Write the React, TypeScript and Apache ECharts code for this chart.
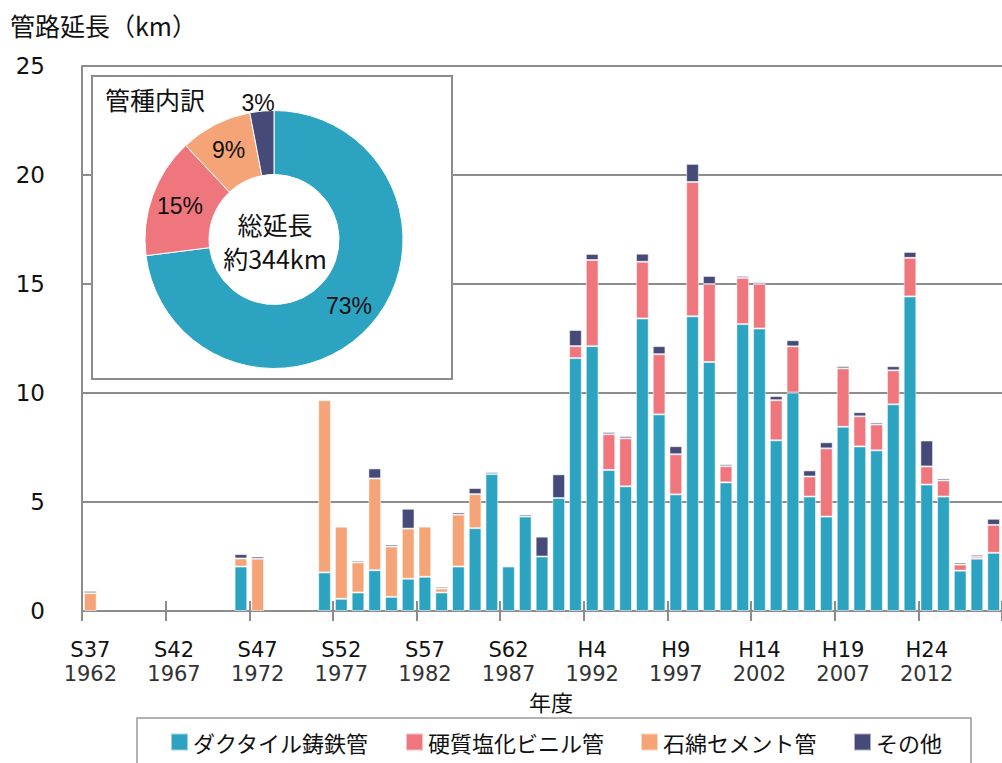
import React, { useEffect, useRef } from "react";
import * as echarts from "echarts";

const years = [
  "1962","1963","1964","1965","1966","1967","1968","1969","1970","1971",
  "1972","1973","1974","1975","1976","1977","1978","1979","1980","1981",
  "1982","1983","1984","1985","1986","1987","1988","1989","1990","1991",
  "1992","1993","1994","1995","1996","1997","1998","1999","2000","2001",
  "2002","2003","2004","2005","2006","2007","2008","2009","2010","2011",
  "2012","2013","2014","2015","2016",
];

// era labels shown under every fifth year
const eraLabels: Record<string, string> = {
  "1962": "S37", "1967": "S42", "1972": "S47", "1977": "S52", "1982": "S57",
  "1987": "S62", "1992": "H4", "1997": "H9", "2002": "H14", "2007": "H19", "2012": "H24",
};

const seriesNames = ["ダクタイル鋳鉄管", "硬質塩化ビニル管", "石綿セメント管", "その他"];
const colors = ["#2ca3c0", "#ee767c", "#f4a476", "#464a78"];

const ductile = [
  0, 0, 0, 0, 0, 0, 0, 0, 0, 2.04,
  0, 0, 0, 0, 1.77, 0.56, 0.85, 1.87, 0.65, 1.48,
  1.57, 0.85, 2.04, 3.8, 6.28, 2.04, 4.33, 2.5, 5.18, 11.6,
  12.15, 6.47, 5.72, 13.42, 9.02, 5.35, 13.52, 11.42, 5.9, 13.16,
  12.96, 7.83, 10.02, 5.25, 4.33, 8.45, 7.55, 7.37, 9.48, 14.43,
  5.8, 5.25, 1.85, 2.4, 2.67,
];
const pvc = [
  0, 0, 0, 0, 0, 0, 0, 0, 0, 0,
  0, 0, 0, 0, 0, 0, 0, 0, 0, 0,
  0, 0, 0, 0, 0, 0, 0, 0, 0, 0.55,
  3.95, 1.64, 2.2, 2.6, 2.76, 1.84, 6.16, 3.58, 0.74, 2.12,
  2.04, 1.84, 2.12, 0.92, 3.13, 2.68, 1.38, 1.19, 1.56, 1.77,
  0.83, 0.74, 0.28, 0.09, 1.28,
];
const asbestos = [
  0.82, 0, 0, 0, 0, 0, 0, 0, 0, 0.37,
  2.4, 0, 0, 0, 7.9, 3.31, 1.38, 4.21, 2.31, 2.3,
  2.3, 0.18, 2.38, 1.56, 0, 0, 0, 0, 0, 0,
  0, 0, 0, 0, 0, 0, 0, 0, 0, 0,
  0, 0, 0, 0, 0, 0, 0, 0, 0, 0,
  0, 0, 0, 0, 0,
];
const other = [
  0.1, 0, 0, 0, 0, 0, 0, 0, 0, 0.2,
  0.1, 0, 0, 0, 0, 0, 0.08, 0.46, 0.09, 0.91,
  0, 0.08, 0.1, 0.28, 0.09, 0, 0.09, 0.91, 1.09, 0.74,
  0.28, 0.1, 0.1, 0.37, 0.37, 0.37, 0.83, 0.37, 0.09, 0.09,
  0.08, 0.19, 0.28, 0.28, 0.28, 0.1, 0.19, 0.09, 0.19, 0.27,
  1.19, 0.09, 0.09, 0.09, 0.28,
];

const pieValues = [73, 15, 9, 3];
const totalLabel = "総延長\n約344km";

const CJK = "'Noto Sans CJK JP', 'Noto Sans', sans-serif";
const LATIN = "'DejaVu Sans', 'Noto Sans CJK JP', sans-serif";
const ARIAL = "'Liberation Sans', 'Noto Sans CJK JP', sans-serif";

export default function App() {
  const ref = useRef<HTMLDivElement>(null);
  useEffect(() => {
    if (!ref.current) return;
    const chart = echarts.init(ref.current, undefined, { renderer: "svg" });
    const stacks = [ductile, pvc, asbestos, other];
    const barSeries = stacks.map((arr, i) => ({
      name: seriesNames[i],
      type: "bar",
      stack: "total",
      barCategoryGap: "24%",
      itemStyle: { color: colors[i], borderColor: "rgba(255,255,255,0.55)", borderWidth: 1 },
      data: arr.map((v) => (v === 0 ? "-" : v)),
      z: 2,
    }));
    const option: any = {
      animation: false,
      title: {
        text: "管路延長（km）",
        left: 5,
        top: 7,
        textStyle: { fontSize: 25, fontWeight: "normal", color: "#111", fontFamily: CJK },
      },
      legend: {
        data: seriesNames,
        left: 165,
        top: 726,
        icon: "rect",
        itemWidth: 17,
        itemHeight: 17,
        itemGap: 36,
        textStyle: { fontSize: 22, color: "#111", fontFamily: CJK },
      },
      grid: { left: 82, top: 66, right: -9.5, bottom: 152 },
      xAxis: [
        {
          type: "category",
          data: years,
          boundaryGap: true,
          axisLine: { show: true, lineStyle: { color: "#8c8c8c", width: 2 } },
          axisTick: { show: true, interval: 4, length: 10, lineStyle: { color: "#8c8c8c", width: 2 } },
          axisLabel: {
            interval: 4,
            margin: 27,
            formatter: (v: string) => `{a|${eraLabels[v] || ""}}\n{b|${v}}`,
            rich: {
              a: { fontSize: 21, lineHeight: 24, color: "#111", fontFamily: LATIN },
              b: { fontSize: 21, lineHeight: 24, color: "#333", fontFamily: LATIN },
            },
          },
          splitLine: { show: false },
        },
        {
          type: "category",
          data: years,
          position: "bottom",
          boundaryGap: true,
          axisLine: { show: false },
          axisTick: { show: true, inside: true, interval: 4, length: 10, lineStyle: { color: "#8c8c8c", width: 2 } },
          axisLabel: { show: false },
          splitLine: { show: false },
        },
      ],
      yAxis: {
        type: "value",
        min: 0,
        max: 25,
        interval: 5,
        axisLine: { show: true, lineStyle: { color: "#8c8c8c", width: 2 } },
        axisTick: { show: false },
        axisLabel: { fontSize: 23, color: "#111", margin: 37, fontFamily: LATIN },
        splitLine: { show: true, lineStyle: { color: "#8c8c8c", width: 2 } },
      },
      series: [
        ...barSeries,
        {
          type: "pie",
          z: 10,
          center: [274, 239.5],
          radius: [65, 129],
          startAngle: 90,
          clockwise: true,
          legendHoverLink: false,
          itemStyle: { borderColor: "#fff", borderWidth: 1 },
          label: {
            show: true,
            position: "inside",
            formatter: "{c}%",
            fontSize: 23,
            color: "#111",
            fontFamily: ARIAL,
          },
          labelLine: { show: false },
          data: pieValues.map((v, i) => ({
            value: v,
            name: "pie" + i,
            itemStyle: { color: colors[i] },
            label: i === 3 ? { show: false } : undefined,
          })),
        },
      ],
      graphic: [
        {
          type: "rect",
          z: 5,
          shape: { x: 92, y: 76, width: 360, height: 303 },
          style: { fill: "#fff", stroke: "#8c8c8c", lineWidth: 2 },
        },
        {
          type: "text",
          z: 12,
          left: 105,
          top: 86,
          style: { text: "管種内訳", fontSize: 25, fill: "#111", fontFamily: CJK },
        },
        {
          type: "text",
          z: 12,
          x: 258,
          y: 103,
          style: {
            text: `${pieValues[3]}%`,
            fontSize: 23,
            fill: "#111",
            fontFamily: ARIAL,
            align: "center",
            verticalAlign: "middle",
          },
        },
        {
          type: "text",
          z: 12,
          x: 275,
          y: 241,
          style: {
            text: totalLabel,
            fontSize: 25,
            lineHeight: 34,
            fill: "#111",
            fontFamily: CJK,
            align: "center",
            verticalAlign: "middle",
          },
        },
        {
          type: "text",
          z: 12,
          x: 551,
          y: 701,
          style: {
            text: "年度",
            fontSize: 22,
            fill: "#111",
            fontFamily: CJK,
            align: "center",
            verticalAlign: "middle",
          },
        },
        {
          type: "rect",
          z: 1,
          shape: { x: 137, y: 718, width: 834, height: 60 },
          style: { fill: "none", stroke: "#999", lineWidth: 1.5 },
        },
      ],
    };
    chart.setOption(option);
    return () => chart.dispose();
  }, []);
  return (
    <div
      ref={ref}
      style={{ position: "absolute", left: 0, top: 0, width: 1002, height: 763, background: "#fff" }}
    />
  );
}
